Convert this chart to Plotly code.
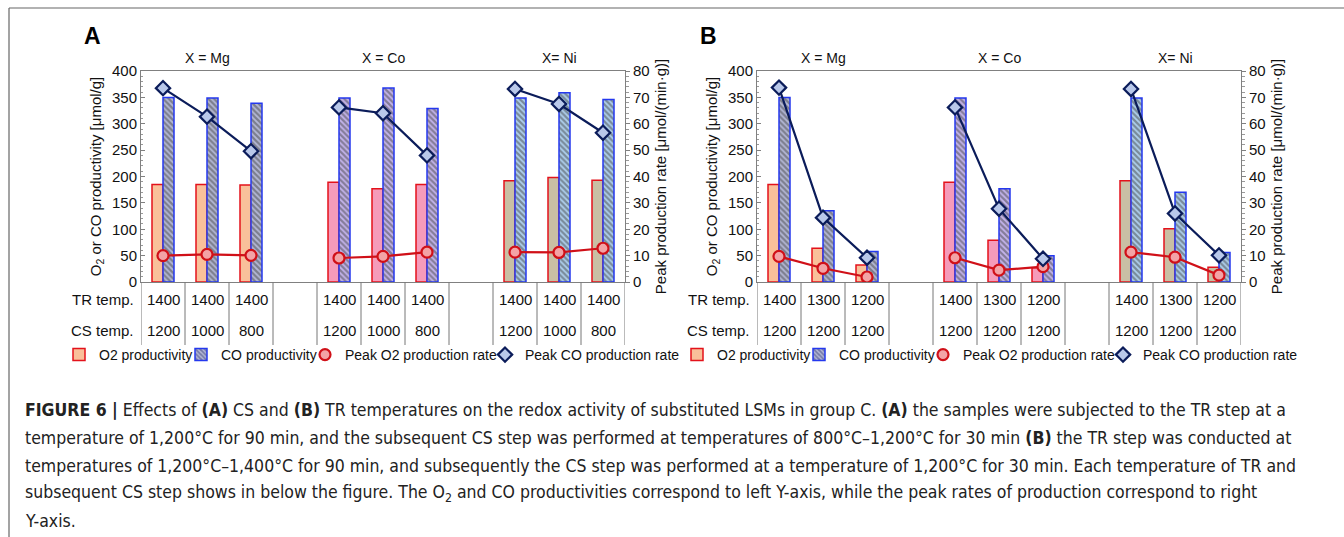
import plotly.graph_objects as go

W, H = 1344, 537

groups = ["X = Mg", "X = Co", "X= Ni"]

# Panel A (CS temperature varied)
tr_A = [1400, 1400, 1400]
cs_A = [1200, 1000, 800]
o2_A = [185, 185, 184, 189, 177, 185, 192, 198, 193]
co_A = [350, 349, 339, 349, 368, 329, 349, 359, 346]
pkO2_A = [10.0, 10.5, 10.1, 9.1, 9.7, 11.3, 11.3, 11.2, 12.8]
pkCO_A = [73.5, 62.7, 49.6, 66.2, 64.0, 48.0, 73.2, 67.5, 56.6]

# Panel B (TR temperature varied)
tr_B = [1400, 1300, 1200]
cs_B = [1200, 1200, 1200]
o2_B = [185, 64, 32, 189, 79, 27, 192, 101, 28]
co_B = [350, 135, 58, 349, 177, 50, 349, 170, 56]
pkO2_B = [9.7, 5.2, 1.9, 9.2, 4.5, 5.8, 11.3, 9.4, 2.6]
pkCO_B = [73.7, 24.4, 9.2, 66.2, 27.8, 8.8, 73.2, 26.0, 10.1]

legend_names = ["O2 productivity", "CO productivity",
                "Peak O2 production rate", "Peak CO production rate"]

# styles
o2_fill = ["#f9c09a", "#f59bba", "#c9bfa4"]
co_fg = ["#343a78", "#5230b4", "#1f68b8"]
co_bg = ["#b4b8d6", "#c4b4ec", "#aed0ee"]
RED = "#e3121b"
BLUE = "#2438ee"
NAVY = "#0b1c5a"
FONT = "Liberation Sans, Arial, sans-serif"

n_per = 3
slot = n_per + 1
xpos = [g * slot + i for g in range(len(groups)) for i in range(n_per)]
nslots = len(groups) * slot - 1


def px_x(p):
    return p / W


def px_y(p):
    return 1 - p / H


ydom = [px_y(282), px_y(71)]
panels = [
    dict(name="A", xd=[px_x(141), px_x(625)], xa="x", ya="y", ya2="y2",
         o2=o2_A, co=co_A, pk2=pkO2_A, pkc=pkCO_A, tr=tr_A, cs=cs_A,
         legs=["legend", "legend2", "legend3", "legend4"],
         legx=[59, 181, 305, 485], labx=92),
    dict(name="B", xd=[px_x(757), px_x(1241)], xa="x2", ya="y3", ya2="y4",
         o2=o2_B, co=co_B, pk2=pkO2_B, pkc=pkCO_B, tr=tr_B, cs=cs_B,
         legs=["legend5", "legend6", "legend7", "legend8"],
         legx=[677, 799, 923, 1103], labx=708),
]

fig = go.Figure()
annotations = []
shapes = []


def with_gaps(vals):
    xs, ys = [], []
    for g in range(len(groups)):
        for i in range(n_per):
            xs.append(xpos[g * n_per + i])
            ys.append(vals[g * n_per + i])
        xs.append(None)
        ys.append(None)
    return xs, ys


o2_marker = dict(symbol="circle", size=11, color="#f3a3a6", line=dict(color="#d01018", width=2.2))
co_marker = dict(symbol="diamond", size=11, color="#b9c8ea", line=dict(color=NAVY, width=2.2))

for pi, p in enumerate(panels):
    gi = [k // n_per for k in range(len(xpos))]
    fig.add_trace(go.Bar(
        x=xpos, y=p["o2"], name=legend_names[0], xaxis=p["xa"], yaxis=p["ya"],
        marker=dict(color=[o2_fill[g] for g in gi], line=dict(color=RED, width=1.5)),
        offsetgroup="o2", legend=p["legs"][0]))
    fig.add_trace(go.Bar(
        x=xpos, y=p["co"], name=legend_names[1], xaxis=p["xa"], yaxis=p["ya"],
        marker=dict(color=[co_bg[g] for g in gi], line=dict(color=BLUE, width=1.5),
                    pattern=dict(shape="\\", size=4, solidity=0.55,
                                 fgcolor=[co_fg[g] for g in gi], fillmode="overlay")),
        offsetgroup="co", legend=p["legs"][1]))
    xs, ys = with_gaps(p["pk2"])
    fig.add_trace(go.Scatter(
        x=xs, y=ys, name=legend_names[2], xaxis=p["xa"], yaxis=p["ya2"],
        mode="lines+markers", connectgaps=False,
        line=dict(color="#d01018", width=2.2), marker=o2_marker,
        legendgroup="pko2%d" % pi, showlegend=False))
    xs, ys = with_gaps(p["pkc"])
    fig.add_trace(go.Scatter(
        x=xs, y=ys, name=legend_names[3], xaxis=p["xa"], yaxis=p["ya2"],
        mode="lines+markers", connectgaps=False,
        line=dict(color=NAVY, width=2.2), marker=co_marker,
        legendgroup="pkco%d" % pi, showlegend=False))
    # legend-only marker entries (the reference legend shows markers only)
    fig.add_trace(go.Scatter(x=[None], y=[None], name=legend_names[2], xaxis=p["xa"], yaxis=p["ya2"],
                             mode="markers", marker=o2_marker, legendgroup="pko2%d" % pi,
                             legend=p["legs"][2]))
    fig.add_trace(go.Scatter(x=[None], y=[None], name=legend_names[3], xaxis=p["xa"], yaxis=p["ya2"],
                             mode="markers", marker=co_marker, legendgroup="pkco%d" % pi,
                             legend=p["legs"][3]))

    # group titles
    for g, name in enumerate(groups):
        annotations.append(dict(text=name, xref=p["xa"], yref="paper",
                                x=g * slot + (n_per - 1) / 2, y=px_y(58),
                                xanchor="center", yanchor="middle",
                                showarrow=False, font=dict(size=14, color="#111")))
    # panel letter
    annotations.append(dict(text="<b>%s</b>" % p["name"], xref="paper", yref="paper",
                            x=px_x(p["labx"]), y=px_y(36), xanchor="center", yanchor="middle",
                            showarrow=False, font=dict(size=23, color="#000")))
    # table row labels
    for lab, yy in (("TR temp.", 299), ("CS temp.", 330)):
        annotations.append(dict(text=lab, xref="paper", yref="paper",
                                x=p["xd"][0] - 5 / W, y=px_y(yy), xanchor="right", yanchor="middle",
                                showarrow=False, font=dict(size=15, color="#111")))
    for k, xv in enumerate(xpos):
        annotations.append(dict(text=str(p["tr"][k % n_per]), xref=p["xa"], yref="paper",
                                x=xv, y=px_y(299), xanchor="center", yanchor="middle",
                                showarrow=False, font=dict(size=15, color="#111")))
        annotations.append(dict(text=str(p["cs"][k % n_per]), xref=p["xa"], yref="paper",
                                x=xv, y=px_y(330), xanchor="center", yanchor="middle",
                                showarrow=False, font=dict(size=15, color="#111")))
    for k in range(nslots + 1):
        shapes.append(dict(type="line", xref=p["xa"], yref="paper",
                           x0=k - 0.5, x1=k - 0.5, y0=ydom[0], y1=px_y(345),
                           line=dict(color="#777", width=1)))

# frame lines
shapes.append(dict(type="line", xref="paper", yref="paper", x0=px_x(9), x1=1,
                   y0=px_y(8), y1=px_y(8), line=dict(color="#666", width=1.2)))
shapes.append(dict(type="line", xref="paper", yref="paper", x0=px_x(9), x1=px_x(9),
                   y0=0, y1=px_y(8), line=dict(color="#666", width=1.2)))

# caption
caption = [
    "<b>FIGURE 6 |</b> Effects of <b>(A)</b> CS and <b>(B)</b> TR temperatures on the redox activity of substituted LSMs in group C. <b>(A)</b> the samples were subjected to the TR step at a",
    "temperature of 1,200°C for 90 min, and the subsequent CS step was performed at temperatures of 800°C–1,200°C for 30 min <b>(B)</b> the TR step was conducted at",
    "temperatures of 1,200°C–1,400°C for 90 min, and subsequently the CS step was performed at a temperature of 1,200°C for 30 min. Each temperature of TR and",
    "subsequent CS step shows in below the figure. The O<sub>2</sub> and CO productivities correspond to left Y-axis, while the peak rates of production correspond to right",
    "Y-axis.",
]
for i, line in enumerate(caption):
    annotations.append(dict(text=line, xref="paper", yref="paper", x=px_x(23),
                            y=px_y(410 + 27.8 * i), xanchor="left", yanchor="middle",
                            showarrow=False,
                            font=dict(size=17.5, color="#222",
                                      family="Liberation Sans Narrow, Arial Narrow, DejaVu Sans Condensed, sans-serif")))

axis_line = dict(showline=True, linecolor="#808080", linewidth=1, showgrid=False, zeroline=False,
                 automargin=False)

xcommon = dict(range=[-0.5, nslots - 0.5], showticklabels=False, ticks="", mirror=True, **axis_line)
yleft = dict(range=[0, 400], dtick=50, ticks="inside", ticklen=4, tickcolor="#808080",
             minor=dict(dtick=10, ticks="inside", ticklen=2, tickcolor="#999"),
             tickfont=dict(size=15, color="#111"), domain=ydom,
             title=dict(text="O<sub>2</sub> or CO productivity [μmol/g]", font=dict(size=15, color="#111"), standoff=6),
             **axis_line)
yright = dict(range=[0, 80], dtick=10, ticks="outside", ticklen=4, tickcolor="#808080",
              minor=dict(dtick=2, ticks="outside", ticklen=3, tickcolor="#999"),
              tickfont=dict(size=15, color="#111"), side="right",
              title=dict(text="Peak production rate [μmol/(min·g)]", font=dict(size=15, color="#111"), standoff=6),
              **axis_line)

leg_common = dict(orientation="h", yanchor="middle", xanchor="left", y=px_y(355),
                  xref="container", yref="container",
                  font=dict(size=14, color="#111", family=FONT), itemwidth=30,
                  bgcolor="rgba(0,0,0,0)", borderwidth=0)

legends = {}
for p in panels:
    for name, lx in zip(p["legs"], p["legx"]):
        legends[name] = dict(x=px_x(lx), **leg_common)

fig.update_layout(
    width=W, height=H, margin=dict(l=0, r=0, t=0, b=0, pad=0, autoexpand=False),
    paper_bgcolor="white", plot_bgcolor="white",
    font=dict(family=FONT, color="#111"),
    barmode="group", bargap=0.5, bargroupgap=0,
    xaxis=dict(domain=panels[0]["xd"], anchor="y", **xcommon),
    xaxis2=dict(domain=panels[1]["xd"], anchor="y3", **xcommon),
    yaxis=dict(anchor="x", **yleft),
    yaxis2=dict(anchor="x", overlaying="y", **yright),
    yaxis3=dict(anchor="x2", **yleft),
    yaxis4=dict(anchor="x2", overlaying="y3", **yright),
    annotations=annotations, shapes=shapes, showlegend=True,
    **legends,
)

fig.write_html("out.html",
               post_script="document.body.style.margin='0px';document.body.style.overflow='hidden';")
